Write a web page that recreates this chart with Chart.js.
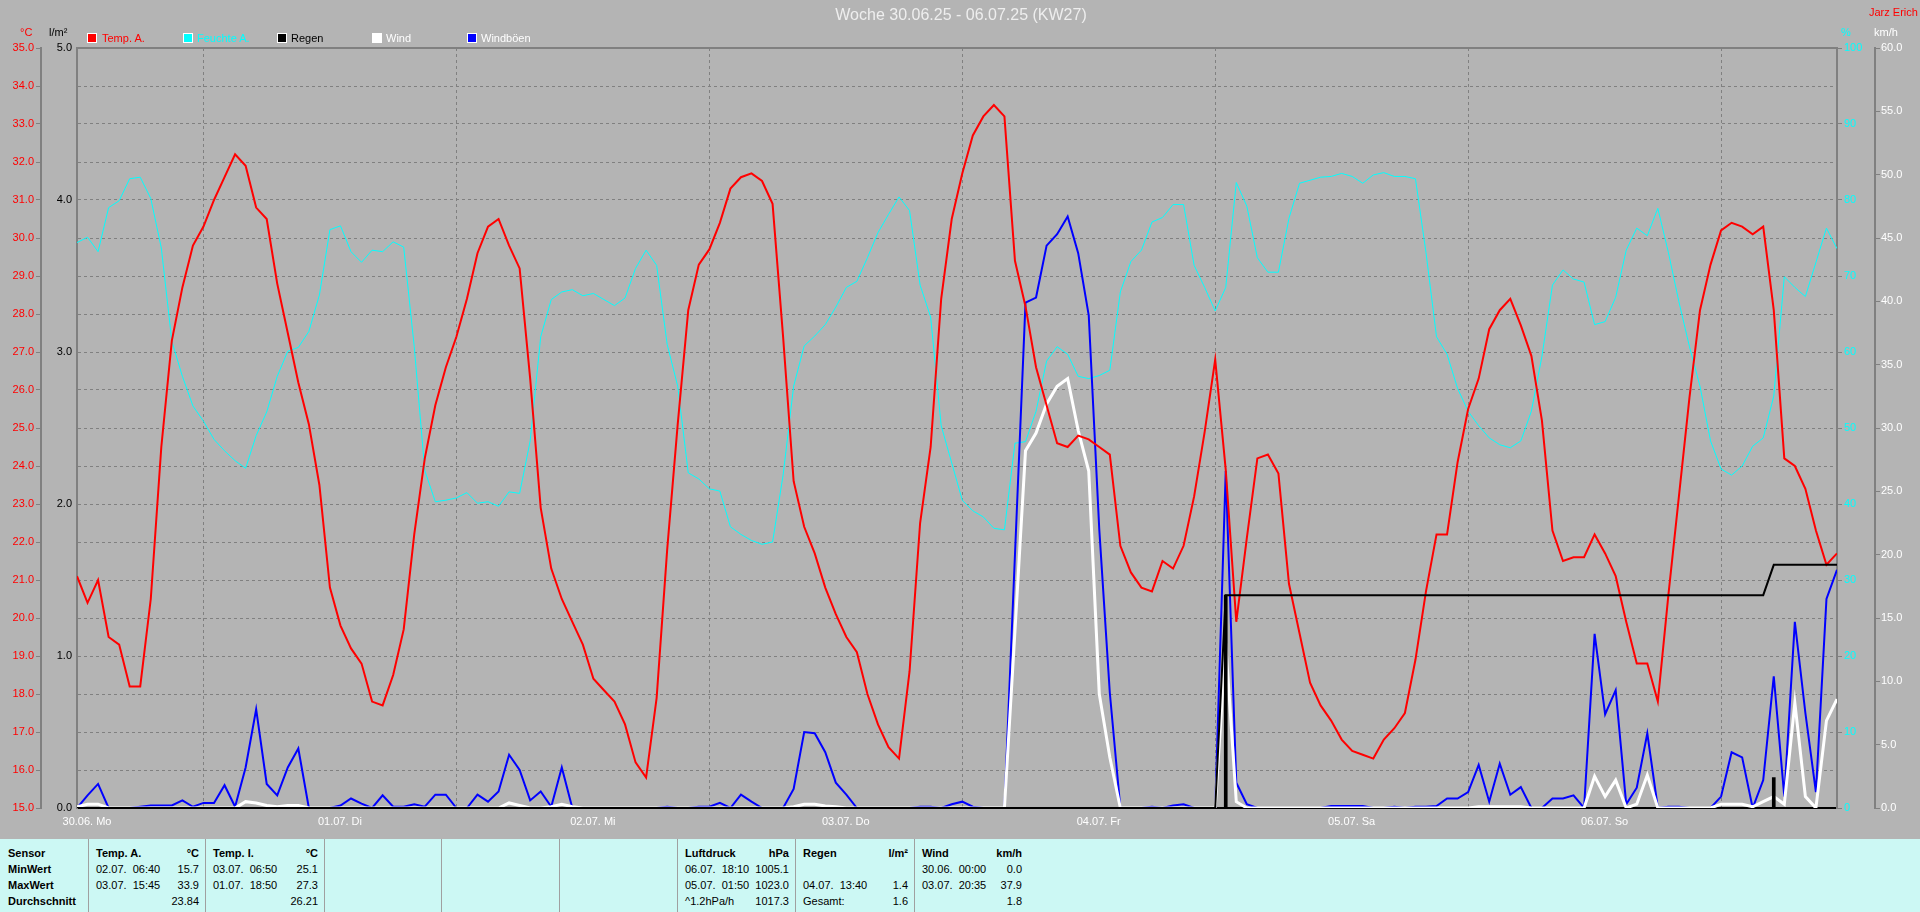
<!DOCTYPE html>
<html>
<head>
<meta charset="utf-8">
<title>Woche 30.06.25 - 06.07.25 (KW27)</title>
<script src="https://cdn.jsdelivr.net/npm/chart.js@4.4.1/dist/chart.umd.min.js"></script>
<style>
    html, body { margin: 0; padding: 0; background: #b4b4b4; }
    body { width: 1920px; height: 912px; position: relative; overflow: hidden;
           font-family: "Liberation Sans", Arial, sans-serif; font-size: 11px; }
    #chart { position: absolute; left: 0; top: 0; }
    .txt { position: absolute; white-space: pre; line-height: 13px; }
    .box { position: absolute; top: 33px; width: 8px; height: 8px; border: 1px solid #ffffff; }
    #title { left: 0; width: 1922px; top: 6px; text-align: center; font-size: 16px; line-height: 18px; color: #eeeeee; }
    #stats { position: absolute; left: 0; top: 839px; width: 1920px; height: 73px; background: #ccf8f4; }
    .col { position: absolute; top: 0; height: 73px; box-sizing: border-box; padding: 6px 6px 0 7px; }
    .col.sep { border-left: 1px solid #a0a0a0; }
    .row { display: flex; justify-content: space-between; height: 16px; line-height: 16px; white-space: pre; color: #000; }
    .b { font-weight: bold; }
</style>
</head>
<body>
<canvas id="chart" width="1920" height="839"></canvas>

<!-- Title, legend and axis units -->
<div class="txt" id="title">Woche 30.06.25 - 06.07.25 (KW27)</div>
<div class="txt" style="left:1869px; top:6px; color:#ff0000;">Jarz Erich</div>
<div class="txt" style="left:20px; top:26px; color:#ff0000;">°C</div>
<div class="txt" style="left:49px; top:26px; color:#000000;">l/m²</div>
<div class="txt" style="left:1841px; top:26px; color:#00ffff;">%</div>
<div class="txt" style="left:1874px; top:26px; color:#ffffff;">km/h</div>

<div class="box" style="left:87px; background:#ff0000;"></div>
<div class="txt" style="left:102px; top:32px; color:#ff0000;">Temp. A.</div>
<div class="box" style="left:183px; background:#00ffff;"></div>
<div class="txt" style="left:197px; top:32px; color:#00ffff;">Feuchte A.</div>
<div class="box" style="left:277px; background:#000000;"></div>
<div class="txt" style="left:291px; top:32px; color:#000000;">Regen</div>
<div class="box" style="left:372px; background:#ffffff;"></div>
<div class="txt" style="left:386px; top:32px; color:#ffffff;">Wind</div>
<div class="box" style="left:467px; background:#0000ff;"></div>
<div class="txt" style="left:481px; top:32px; color:#ffffff;">Windböen</div>

<!-- Summary table -->
<div id="stats">
    <div class="col b" style="left:0; width:88px; padding-left:8px;">
        <div class="row">Sensor</div>
        <div class="row">MinWert</div>
        <div class="row">MaxWert</div>
        <div class="row">Durchschnitt</div>
    </div>
    <div class="col sep" style="left:88px; width:117px;">
        <div class="row b"><span>Temp. A.</span><span>°C</span></div>
        <div class="row"><span>02.07.  06:40</span><span>15.7</span></div>
        <div class="row"><span>03.07.  15:45</span><span>33.9</span></div>
        <div class="row"><span></span><span>23.84</span></div>
    </div>
    <div class="col sep" style="left:205px; width:119px;">
        <div class="row b"><span>Temp. I.</span><span>°C</span></div>
        <div class="row"><span>03.07.  06:50</span><span>25.1</span></div>
        <div class="row"><span>01.07.  18:50</span><span>27.3</span></div>
        <div class="row"><span></span><span>26.21</span></div>
    </div>
    <div class="col sep" style="left:324px; width:117px;"></div>
    <div class="col sep" style="left:441px; width:118px;"></div>
    <div class="col sep" style="left:559px; width:118px;"></div>
    <div class="col sep" style="left:677px; width:118px;">
        <div class="row b"><span>Luftdruck</span><span>hPa</span></div>
        <div class="row"><span>06.07.  18:10</span><span>1005.1</span></div>
        <div class="row"><span>05.07.  01:50</span><span>1023.0</span></div>
        <div class="row"><span>^1.2hPa/h</span><span>1017.3</span></div>
    </div>
    <div class="col sep" style="left:795px; width:119px;">
        <div class="row b"><span>Regen</span><span>l/m²</span></div>
        <div class="row"><span></span><span></span></div>
        <div class="row"><span>04.07.  13:40</span><span>1.4</span></div>
        <div class="row"><span>Gesamt:</span><span>1.6</span></div>
    </div>
    <div class="col sep" style="left:914px; width:114px;">
        <div class="row b"><span>Wind</span><span>km/h</span></div>
        <div class="row"><span>30.06.  00:00</span><span>0.0</span></div>
        <div class="row"><span>03.07.  20:35</span><span>37.9</span></div>
        <div class="row"><span></span><span>1.8</span></div>
    </div>
</div>

<script>
// Hourly readings, 30.06. 00:00 to 06.07. 23:00 (one row per day)
const tempA = [
    21.1, 20.4, 21.0, 19.5, 19.3, 18.2, 18.2, 20.5, 24.5, 27.3, 28.7, 29.8, 30.3, 31.0, 31.6, 32.2, 31.9, 30.8, 30.5, 28.8, 27.5, 26.2, 25.1, 23.5,
    20.8, 19.8, 19.2, 18.8, 17.8, 17.7, 18.5, 19.7, 22.2, 24.2, 25.6, 26.6, 27.4, 28.4, 29.6, 30.3, 30.5, 29.8, 29.2, 26.3, 22.9, 21.3, 20.5, 19.9,
    19.3, 18.4, 18.1, 17.8, 17.2, 16.2, 15.8, 17.9, 21.8, 25.1, 28.1, 29.3, 29.7, 30.4, 31.3, 31.6, 31.7, 31.5, 30.9, 27.4, 23.6, 22.4, 21.7, 20.8,
    20.1, 19.5, 19.1, 18.0, 17.2, 16.6, 16.3, 18.6, 22.5, 24.5, 28.4, 30.5, 31.7, 32.7, 33.2, 33.5, 33.2, 29.4, 28.2, 26.6, 25.6, 24.6, 24.5, 24.8,
    24.7, 24.5, 24.3, 21.9, 21.2, 20.8, 20.7, 21.5, 21.3, 21.9, 23.2, 24.9, 26.8, 23.9, 19.9, 22.1, 24.2, 24.3, 23.8, 20.9, 19.6, 18.3, 17.7, 17.3,
    16.8, 16.5, 16.4, 16.3, 16.8, 17.1, 17.5, 18.9, 20.7, 22.2, 22.2, 24.1, 25.5, 26.3, 27.6, 28.1, 28.4, 27.7, 26.9, 25.2, 22.3, 21.5, 21.6, 21.6,
    22.2, 21.7, 21.1, 19.9, 18.8, 18.8, 17.8, 20.6, 23.2, 25.8, 28.1, 29.3, 30.2, 30.4, 30.3, 30.1, 30.3, 28.1, 24.2, 24.0, 23.4, 22.3, 21.4, 21.7
];

const humA = [
    74.4, 75.1, 73.2, 79.0, 79.9, 82.8, 83.0, 80.2, 73.7, 61.4, 56.8, 52.9, 50.9, 48.5, 47.0, 45.7, 44.7, 49.0, 52.1, 56.8, 60.1, 60.6, 62.7, 67.5,
    76.1, 76.6, 73.2, 71.8, 73.4, 73.2, 74.5, 73.8, 60.7, 44.4, 40.3, 40.5, 40.8, 41.5, 40.1, 40.3, 39.7, 41.6, 41.4, 48.3, 62.0, 66.9, 67.9, 68.2,
    67.4, 67.7, 66.9, 66.1, 67.1, 71.0, 73.4, 71.4, 61.0, 55.5, 44.1, 43.3, 42.0, 41.7, 37.0, 36.0, 35.2, 34.7, 35.0, 43.8, 55.5, 60.8, 62.1, 63.6,
    65.9, 68.5, 69.3, 72.4, 75.7, 78.1, 80.4, 78.6, 68.8, 64.6, 50.3, 45.4, 40.5, 39.1, 38.3, 36.8, 36.6, 48.0, 48.2, 52.2, 58.8, 60.7, 59.7, 56.8,
    56.5, 56.9, 57.6, 67.9, 71.9, 73.4, 77.1, 77.7, 79.4, 79.4, 71.4, 68.5, 65.4, 68.5, 82.3, 79.2, 72.4, 70.5, 70.5, 77.6, 82.2, 82.6, 83.0, 83.1,
    83.5, 83.1, 82.2, 83.3, 83.6, 83.1, 83.1, 82.8, 73.1, 62.0, 59.7, 55.2, 52.2, 50.3, 48.7, 47.8, 47.4, 48.3, 52.2, 59.4, 68.8, 70.8, 69.6, 69.2,
    63.6, 64.0, 67.2, 73.4, 76.3, 75.3, 78.9, 73.1, 66.6, 60.7, 55.5, 48.3, 44.6, 43.8, 45.0, 47.6, 48.7, 54.2, 69.9, 68.5, 67.3, 71.8, 76.3, 73.6
];

const windAvg = [
    0.1, 0.3, 0.3, 0, 0, 0, 0, 0, 0, 0, 0, 0, 0, 0, 0, 0, 0.5, 0.4, 0.2, 0.1, 0.2, 0.2, 0, 0,
    0, 0, 0, 0, 0, 0, 0, 0, 0, 0, 0, 0, 0, 0, 0, 0, 0, 0.4, 0.2, 0, 0, 0.1, 0.3, 0.1,
    0, 0, 0, 0, 0, 0, 0, 0, 0, 0, 0, 0, 0, 0, 0, 0, 0, 0, 0, 0, 0.1, 0.3, 0.3, 0.15,
    0.1, 0, 0, 0, 0, 0, 0, 0, 0, 0, 0, 0, 0, 0, 0, 0, 0, 14.0, 28.2, 29.6, 31.9, 33.3, 33.9, 29.8,
    26.6, 9.0, 4.0, 0, 0, 0, 0, 0, 0, 0, 0, 0, 0, 13.0, 0.5, 0, 0, 0, 0, 0, 0, 0, 0, 0,
    0, 0, 0, 0, 0, 0, 0, 0, 0, 0, 0, 0, 0, 0.1, 0.1, 0.1, 0.1, 0.1, 0, 0, 0, 0, 0, 0,
    2.5, 0.9, 2.2, 0, 0.3, 2.6, 0, 0, 0, 0, 0, 0, 0.3, 0.3, 0.3, 0.1, 0.5, 0.9, 0.3, 8.3, 0.9, 0, 6.9, 8.6
];

const windGust = [
    0, 1.0, 1.9, 0, 0, 0, 0.1, 0.2, 0.2, 0.2, 0.6, 0.1, 0.4, 0.4, 1.8, 0.1, 3.2, 7.8, 1.9, 1.0, 3.2, 4.7, 0, 0,
    0, 0.2, 0.75, 0.35, 0, 1.0, 0.1, 0.1, 0.3, 0.1, 1.05, 1.05, 0, 0, 1.05, 0.5, 1.3, 4.2, 3.0, 0.6, 1.3, 0.1, 3.2, 0,
    0, 0, 0, 0, 0, 0, 0, 0, 0.1, 0, 0, 0.1, 0.1, 0.4, 0, 1.05, 0.5, 0, 0, 0, 1.5, 6.0, 5.9, 4.4,
    2.0, 1.05, 0, 0, 0, 0, 0, 0, 0.1, 0.1, 0, 0.3, 0.5, 0.1, 0, 0, 0, 20.0, 39.9, 40.3, 44.4, 45.3, 46.7, 43.8,
    38.9, 22.0, 9.1, 0, 0, 0, 0.1, 0, 0.2, 0.3, 0, 0, 0, 26.6, 2.0, 0.3, 0, 0, 0, 0, 0, 0, 0, 0.15,
    0.15, 0.15, 0.15, 0, 0, 0.1, 0, 0.1, 0.1, 0.15, 0.75, 0.75, 1.25, 3.4, 0.5, 3.5, 1.05, 1.65, 0, 0, 0.75, 0.75, 1.0, 0,
    13.75, 7.4, 9.3, 0.3, 1.6, 5.9, 0, 0.1, 0.1, 0, 0, 0, 0.9, 4.4, 4.0, 0, 2.2, 10.4, 0.9, 14.7, 7.5, 1.25, 16.5, 18.8
];

// Rain: running total (l/m²) and the single rain events
const rainSum = [
    0, 0, 0, 0, 0, 0, 0, 0, 0, 0, 0, 0, 0, 0, 0, 0, 0, 0, 0, 0, 0, 0, 0, 0,
    0, 0, 0, 0, 0, 0, 0, 0, 0, 0, 0, 0, 0, 0, 0, 0, 0, 0, 0, 0, 0, 0, 0, 0,
    0, 0, 0, 0, 0, 0, 0, 0, 0, 0, 0, 0, 0, 0, 0, 0, 0, 0, 0, 0, 0, 0, 0, 0,
    0, 0, 0, 0, 0, 0, 0, 0, 0, 0, 0, 0, 0, 0, 0, 0, 0, 0, 0, 0, 0, 0, 0, 0,
    0, 0, 0, 0, 0, 0, 0, 0, 0, 0, 0, 0, 0, 1.4, 1.4, 1.4, 1.4, 1.4, 1.4, 1.4, 1.4, 1.4, 1.4, 1.4,
    1.4, 1.4, 1.4, 1.4, 1.4, 1.4, 1.4, 1.4, 1.4, 1.4, 1.4, 1.4, 1.4, 1.4, 1.4, 1.4, 1.4, 1.4, 1.4, 1.4, 1.4, 1.4, 1.4, 1.4,
    1.4, 1.4, 1.4, 1.4, 1.4, 1.4, 1.4, 1.4, 1.4, 1.4, 1.4, 1.4, 1.4, 1.4, 1.4, 1.4, 1.4, 1.6, 1.6, 1.6, 1.6, 1.6, 1.6, 1.6
];
const rainBarHours = [109, 161];
const rainBarValues = [1.4, 0.2];

// X axis: one tick per day
const dayTicks = [0, 24, 48, 72, 96, 120, 144];
const dayLabels = ["30.06. Mo", "01.07. Di", "02.07. Mi", "03.07. Do", "04.07. Fr", "05.07. Sa", "06.07. So"];
const lastHour = 167;

const toPoints = (arr) => arr.map((v, i) => ({x: i, y: v}));

Chart.defaults.font.family = '"Liberation Sans", Arial, sans-serif';
Chart.defaults.font.size = 11;

const gridGray = "#808080";

new Chart(document.getElementById("chart").getContext("2d"), {
    type: "line",
    data: {
        datasets: [
            {
                label: "Temp. A.", data: toPoints(tempA), yAxisID: "yTemp",
                borderColor: "#ff0000", borderWidth: 2, order: 1
            },
            {
                label: "Feuchte A.", data: toPoints(humA), yAxisID: "yHum",
                borderColor: "#00ffff", borderWidth: 1, order: 4
            },
            {
                label: "Regen", data: toPoints(rainSum), yAxisID: "yRain",
                borderColor: "#000000", borderWidth: 2, order: 0
            },
            {
                type: "bar", label: "Regen Menge",
                data: rainBarHours.map((h, i) => ({x: h, y: rainBarValues[i]})),
                yAxisID: "yRain", backgroundColor: "#000000", barThickness: 3, order: 0
            },
            {
                label: "Wind", data: toPoints(windAvg), yAxisID: "yWind",
                borderColor: "#ffffff", borderWidth: 3, order: 2
            },
            {
                label: "Windböen", data: toPoints(windGust), yAxisID: "yWind",
                borderColor: "#0000ff", borderWidth: 2, order: 3
            },
        ],
    },
    options: {
        responsive: false,
        animation: false,
        events: [],
        layout: { padding: { top: 48, left: 0, right: 0, bottom: 0 } },
        elements: { point: { radius: 0 }, line: { tension: 0 } },
        plugins: { legend: { display: false }, tooltip: { enabled: false } },
        scales: {
            x: {
                type: "linear", position: "bottom", min: 0, max: lastHour, offset: false,
                afterBuildTicks: (s) => { s.ticks = dayTicks.map(v => ({value: v})); },
                afterFit: (s) => { s.height = 31; },
                ticks: {
                    color: "#ffffff", padding: 7, labelOffset: 10, maxRotation: 0, autoSkip: false,
                    callback: (v, i) => dayLabels[i]
                },
                grid: { color: gridGray, drawTicks: false },
                border: { color: "#000000", width: 2, dash: [3, 3] },
            },
            xTop: {
                type: "linear", position: "top", min: 0, max: lastHour,
                afterFit: (s) => { s.height = 0; },
                ticks: { display: false },
                grid: { display: false, drawTicks: false },
                border: { color: gridGray, width: 2 },
            },
            yTemp: {
                type: "linear", position: "left", weight: 2, min: 15, max: 35,
                afterFit: (s) => { s.width = 41; },
                ticks: { stepSize: 1, color: "#ff0000", padding: 2, callback: (v) => v.toFixed(1) },
                grid: { color: gridGray, tickColor: gridGray, tickLength: 5 },
                border: { color: gridGray, width: 2, dash: [3, 3] },
            },
            yRain: {
                type: "linear", position: "left", weight: 1, min: 0, max: 5,
                afterFit: (s) => { s.width = 36; },
                ticks: { stepSize: 1, color: "#000000", padding: 5, callback: (v) => v.toFixed(1) },
                grid: { display: false, drawTicks: false },
                border: { color: gridGray, width: 2 },
            },
            yHum: {
                type: "linear", position: "right", weight: 1, min: 0, max: 100,
                afterFit: (s) => { s.width = 38; },
                ticks: { stepSize: 10, color: "#00ffff", padding: 2 },
                grid: { drawOnChartArea: false, color: gridGray, tickLength: 5 },
                border: { color: gridGray, width: 2 },
            },
            yWind: {
                type: "linear", position: "right", weight: 2, min: 0, max: 60,
                afterFit: (s) => { s.width = 45; },
                ticks: { stepSize: 5, color: "#ffffff", padding: 1, callback: (v) => v.toFixed(1) },
                grid: { drawOnChartArea: false, color: gridGray, tickLength: 5 },
                border: { color: gridGray, width: 2 },
            },
        },
    },
});
</script>
</body>
</html>
